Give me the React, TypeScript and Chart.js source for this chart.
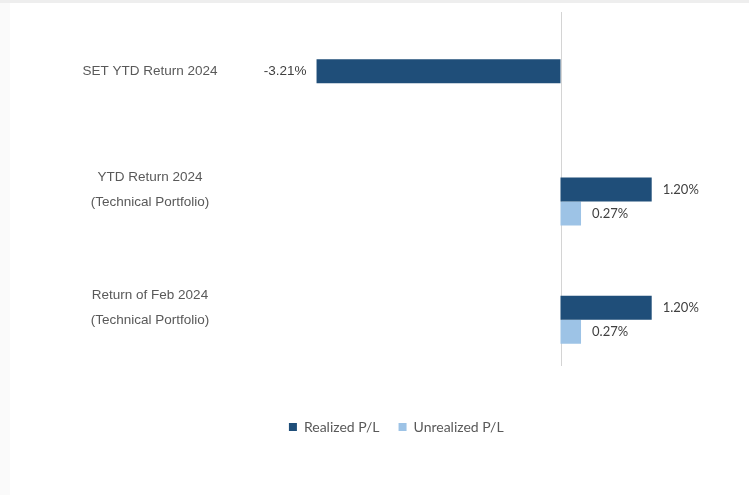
import React, { useEffect, useRef } from 'react';
import { Chart, registerables } from 'chart.js';

Chart.register(...registerables);

const categories: string[][] = [
  ['SET YTD Return 2024'],
  ['YTD Return 2024', '(Technical Portfolio)'],
  ['Return of Feb 2024', '(Technical Portfolio)'],
];
const seriesNames = ['Realized P/L', 'Unrealized P/L'];
const realizedPL: (number | null)[] = [-3.21, 1.2, 1.2];
const unrealizedPL: (number | null)[] = [null, 0.27, 0.27];
const xMin = -4;
const xMax = 2;

const DARK = '#1f4e79';
const LIGHT = '#9dc3e6';
const ARIAL = '"Liberation Sans", Arial, sans-serif';
const CALIBRI = 'Lato, "Noto Sans", sans-serif';

export default function App() {
  const ref = useRef<HTMLCanvasElement>(null);

  useEffect(() => {
    if (!ref.current) return;

    const zeroLine = {
      id: 'zeroLine',
      beforeDatasetsDraw(chart: any) {
        const { ctx, chartArea, scales } = chart;
        const x = Math.round(scales.x.getPixelForValue(0)) + 0.5;
        ctx.save();
        ctx.strokeStyle = '#d4d4d4';
        ctx.lineWidth = 1;
        ctx.beginPath();
        ctx.moveTo(x, chartArea.top - 12);
        ctx.lineTo(x, chartArea.bottom - 13);
        ctx.stroke();
        ctx.restore();
      },
    };

    const valueLabels = {
      id: 'valueLabels',
      afterDatasetsDraw(chart: any) {
        const { ctx } = chart;
        ctx.save();
        ctx.textBaseline = 'middle';
        chart.data.datasets.forEach((ds: any, di: number) => {
          const meta = chart.getDatasetMeta(di);
          meta.data.forEach((bar: any, i: number) => {
            const v = ds.data[i];
            if (v === null || v === undefined) return;
            const text = v.toFixed(2) + '%';
            if (v < 0) {
              ctx.font = `13.5px ${ARIAL}`;
              ctx.fillStyle = '#404040';
              ctx.textAlign = 'right';
              ctx.fillText(text, bar.x - 10, bar.y);
            } else {
              ctx.font = `13px ${CALIBRI}`;
              ctx.fillStyle = '#404040';
              ctx.textAlign = 'left';
              ctx.fillText(text, bar.x + 11, bar.y);
            }
          });
        });
        ctx.restore();
      },
    };

    const chart = new Chart(ref.current, {
      type: 'bar',
      data: {
        labels: categories,
        datasets: [
          {
            label: seriesNames[0],
            data: realizedPL,
            backgroundColor: DARK,
            categoryPercentage: 0.406,
            barPercentage: 1,
          },
          {
            label: seriesNames[1],
            data: unrealizedPL,
            backgroundColor: LIGHT,
            categoryPercentage: 0.406,
            barPercentage: 1,
          },
        ],
      },
      options: {
        indexAxis: 'y',
        responsive: false,
        animation: false,
        layout: { padding: { left: 70, right: 36.5, top: 21, bottom: 51 } },
        scales: {
          x: {
            min: xMin,
            max: xMax,
            display: true,
            grid: { display: false },
            border: { display: false },
            ticks: { display: false },
            afterFit: (s: any) => {
              s.height = 22;
              s.paddingLeft = 0;
              s.paddingRight = 0;
            },
          },
          y: {
            grid: { display: false },
            border: { display: false },
            afterFit: (s: any) => {
              s.width = 176.5;
              s.paddingTop = 0;
              s.paddingBottom = 0;
            },
            ticks: {
              crossAlign: 'center',
              padding: 31,
              labelOffset: -12,
              color: '#595959',
              font: { family: ARIAL, size: 13.5, lineHeight: 1.85 },
            },
          },
        },
        plugins: {
          tooltip: { enabled: false },
          legend: {
            position: 'bottom',
            labels: {
              boxWidth: 8,
              boxHeight: 8,
              padding: 19,
              color: '#595959',
              font: { family: CALIBRI, size: 14 },
            },
          },
        },
      },
      plugins: [zeroLine, valueLabels],
    } as any);

    return () => chart.destroy();
  }, []);

  return (
    <div style={{ position: 'fixed', inset: 0, background: '#fafafa' }}>
      <div style={{ position: 'absolute', left: 0, top: 0, right: 0, height: 3, background: '#eeeeee' }} />
      <div style={{ position: 'absolute', left: 10, top: 3, width: 739, height: 492, background: '#ffffff' }}>
        <canvas ref={ref} width={739} height={492} style={{ display: 'block' }} />
      </div>
    </div>
  );
}
